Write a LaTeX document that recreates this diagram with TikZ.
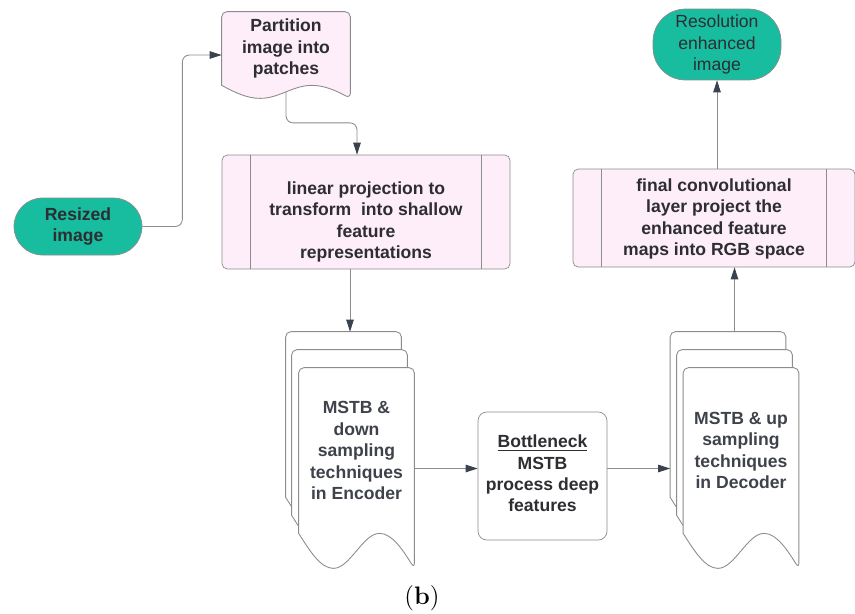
\documentclass[tikz,border=0pt]{standalone}
\usepackage{fontspec}
\setsansfont{Liberation Sans}
\usetikzlibrary{arrows.meta,positioning,calc,backgrounds}
\definecolor{flowteal}{RGB}{24,189,160}
\definecolor{flowpink}{RGB}{253,238,249}
\definecolor{flowline}{RGB}{140,140,140}
\definecolor{flowtip}{RGB}{58,66,80}
\definecolor{flowtext}{RGB}{45,45,50}
\definecolor{stacktext}{RGB}{62,66,74}
% outline of a paper shape with wavy bottom under node #2, wave depth #3
\newcommand{\docoutline}[3][]{%
  \draw[docline,#1] ($(#2.south east)+(0,-#3)$)
    sin ($(#2.south west)!0.7!(#2.south east)$)
    cos ($(#2.south west)!0.5!(#2.south east)+(0,-#3/2)$)
    sin ($(#2.south west)!0.3!(#2.south east)+(0,-#3)$)
    cos (#2.south west) [rounded corners=3pt] -- (#2.north west) -- (#2.north east) -- cycle;}
\begin{document}
\begin{tikzpicture}[
  terminal/.style={draw=flowline,fill=flowteal,minimum width=2.56cm,align=center,
    font=\sffamily\fontsize{10}{12.2}\selectfont,text=flowtext},
  procbox/.style={draw=flowline,fill=flowpink,rounded corners=3pt},
  paper/.style={minimum width=2.3cm,inner sep=0pt},
  docline/.style={draw=flowline,fill=white,line width=0.5pt},
  txt/.style={font=\sffamily\bfseries\fontsize{10}{12.2}\selectfont,align=center,text=flowtext},
  arr/.style={draw=flowline,line width=0.5pt,-{Triangle[length=2.4mm,width=1.5mm,color=flowtip]}}
]
  \useasboundingbox (0,0) rectangle (17.1,-12.26);

  % start and end
  \node[terminal,minimum height=1.14cm,rounded corners=0.57cm,font=\sffamily\bfseries\fontsize{10}{12.2}\selectfont] (resized) at (1.56,-4.53) {Resized\\image};
  \node[terminal,minimum height=1.30cm,rounded corners=0.65cm] (result) at (14.34,-0.89) {Resolution\\enhanced\\image};

  % partition
  \node[paper,minimum width=2.56cm,minimum height=1.46cm] (part) at (5.72,-0.97) {};
  \node[txt] at (part.center) {Partition\\image into\\patches};

  % linear projection
  \node[procbox,minimum width=5.76cm,minimum height=2.28cm] (lin) at (7.32,-4.24) {};
  \draw[flowline] ([xshift=0.58cm]lin.north west) -- ([xshift=0.58cm]lin.south west);
  \draw[flowline] ([xshift=-0.58cm]lin.north east) -- ([xshift=-0.58cm]lin.south east);
  \node[txt] at ([yshift=-0.2cm]lin.center) {linear projection to\\transform\ \ into shallow\\feature\\representations};

  % final layer
  \node[procbox,minimum width=5.64cm,minimum height=1.96cm] (fin) at (14.28,-4.36) {};
  \draw[flowline] ([xshift=0.58cm]fin.north west) -- ([xshift=0.58cm]fin.south west);
  \draw[flowline] ([xshift=-0.58cm]fin.north east) -- ([xshift=-0.58cm]fin.south east);
  \node[txt] at ([yshift=-0.02cm]fin.center) {final convolutional\\layer project the\\enhanced feature\\maps into RGB space};

  % encoder stack
  \node[paper,minimum height=3.30cm] (encA) at (6.87,-8.29) {};
  \node[paper,minimum height=3.30cm] (encB) at (6.99,-8.65) {};
  \node[paper,minimum height=3.30cm] (encC) at (7.13,-9.01) {};
  \node[txt,text=stacktext] at (encC.center) {MSTB \&\\down\\sampling\\techniques\\in Encoder};

  % bottleneck
  \node[draw=flowline,rounded corners=5pt,minimum width=2.58cm,minimum height=2.56cm] (bott) at (10.85,-9.52) {};
  \node[txt] at ([yshift=0.05cm]bott.center) {\underline{Bottleneck}\\MSTB\\process deep\\features};

  % decoder stack
  \node[paper,minimum height=3.30cm] (decA) at (14.56,-8.29) {};
  \node[paper,minimum height=3.30cm] (decB) at (14.69,-8.65) {};
  \node[paper,minimum height=3.30cm] (decC) at (14.82,-9.01) {};
  \node[txt,text=stacktext] at (decC.center) {MSTB \& up\\sampling\\techniques\\in Decoder};

  \begin{scope}[on background layer]
    \docoutline[fill=flowpink]{part}{0.26}
    \docoutline{encA}{0.70}
    \docoutline{encB}{0.70}
    \docoutline{encC}{0.70}
    \docoutline{decA}{0.70}
    \docoutline{decB}{0.70}
    \docoutline{decC}{0.70}
  \end{scope}

  % connectors
  \draw[arr,rounded corners=4pt] (resized.east) -- ++(0.8,0) |- ([yshift=-0.13cm]part.west);
  \draw[arr,rounded corners=4pt] ([yshift=-0.13cm]part.south) -- ++(0,-0.62) -| ([xshift=-0.18cm]lin.north);
  \draw[arr] ([xshift=-0.32cm]lin.south) -- ([xshift=-0.32cm]lin.south |- encA.north);
  \draw[arr] ([yshift=-0.36cm]encC.east) coordinate (e1) -- (e1 -| bott.west);
  \draw[arr] (e1 -| bott.east) -- (e1 -| decA.west);
  \draw[arr] ([xshift=0.13cm]decA.north) -- ([xshift=0.13cm]decA.north |- fin.south);
  \draw[arr] (fin.north -| result.south) -- (result.south);

  % caption
  \node[font=\Large] (cap) at (8.44,-11.96) {(\textbf{b})};
\end{tikzpicture}
\end{document}
